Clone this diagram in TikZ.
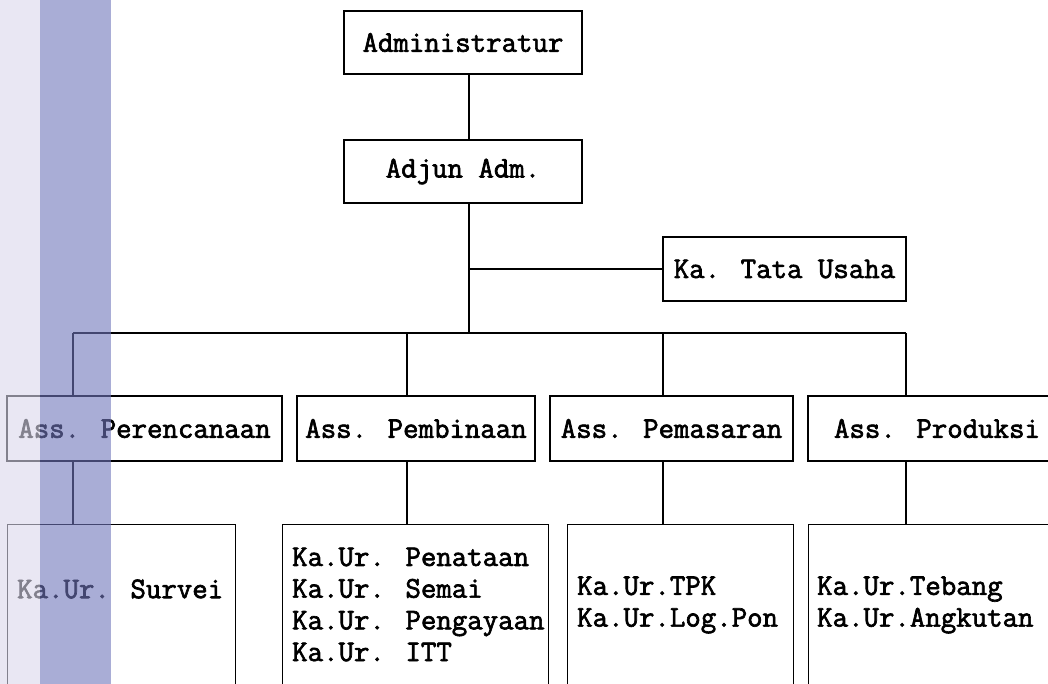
\documentclass[tikz,border=0pt]{standalone}
\usepackage{fontspec}
\newfontfamily\orgfont[AutoFakeBold=2.2]{Latin Modern Mono}
\definecolor{striplight}{RGB}{218,215,235}
\definecolor{stripdark}{RGB}{112,118,187}
\tikzset{
	orgbox/.style={draw,line width=1.3pt,inner sep=0pt,font=\orgfont\bfseries\fontsize{30}{31.7}\selectfont},
	orgtext/.style={inner sep=0pt,anchor=west,align=left,font=\orgfont\bfseries\fontsize{30}{31.7}\selectfont},
	link/.style={line width=1.3pt}
}
\begin{document}
\begin{tikzpicture}[x=1pt,y=-1pt]
		\useasboundingbox (0,0) rectangle (1048,684);
		\clip (0,0) rectangle (1048,684);
		\node[orgbox,minimum width=238pt,minimum height=63pt] (admin) at (463,42.5) {Administratur};
		\node[orgbox,minimum width=238pt,minimum height=63pt] (adjun) at (463,171.5) {Adjun Adm.};
		\node[orgbox,minimum width=243pt,minimum height=64pt] (tata) at (784.5,269) {Ka. Tata Usaha};
		\coordinate (trunk) at (469,333);
		\draw[link] (trunk |- admin.south) -- (trunk |- adjun.north);
		\draw[link] (trunk |- adjun.south) -- (trunk);
		\draw[link] (tata.west) -- (tata.west -| trunk);
		\foreach \n/\x/\w/\t in {per/144.5/275/Ass. Perencanaan,pemb/416/238/Ass. Pembinaan,pemas/671.5/243/Ass. Pemasaran,prod/937/258/Ass. Produksi}
			\node[orgbox,minimum width=\w pt,minimum height=65pt] (\n) at (\x,428.5) {\t};
		\foreach \n/\x/\w in {per/7/228,pemb/282/266,pemas/567/226,prod/808/258}
			\node[orgbox,anchor=north west,minimum width=\w pt,minimum height=200pt] (\n-sub) at (\x,524) {};
		\foreach \n/\x in {per/73,pemb/407,pemas/663,prod/906} {
			\coordinate (\n-drop) at (\x,333);
			\draw[link] (\n-drop) -- (\n-drop |- \n.north);
			\draw[link] (\n-drop |- \n.south) -- (\n-drop |- \n-sub.north);
		}
		\draw[link] (per-drop) -- (prod-drop);
		\node[orgtext] (per-txt) at (17,589) {Ka.Ur. Survei};
		\node[orgtext] (pemb-txt) at (292,604.5) {Ka.Ur. Penataan\\Ka.Ur. Semai\\Ka.Ur. Pengayaan\\Ka.Ur. ITT};
		\node[orgtext] (pemas-txt) at (577,605) {Ka.Ur.TPK\\Ka.Ur.Log.Pon};
		\node[orgtext] (prod-txt) at (817,605) {Ka.Ur.Tebang\\Ka.Ur.Angkutan};
		\fill[striplight,fill opacity=.6] (0,0) rectangle (40,684);
		\fill[stripdark,fill opacity=.6] (40,0) rectangle (111,684);
	\end{tikzpicture}
\end{document}
